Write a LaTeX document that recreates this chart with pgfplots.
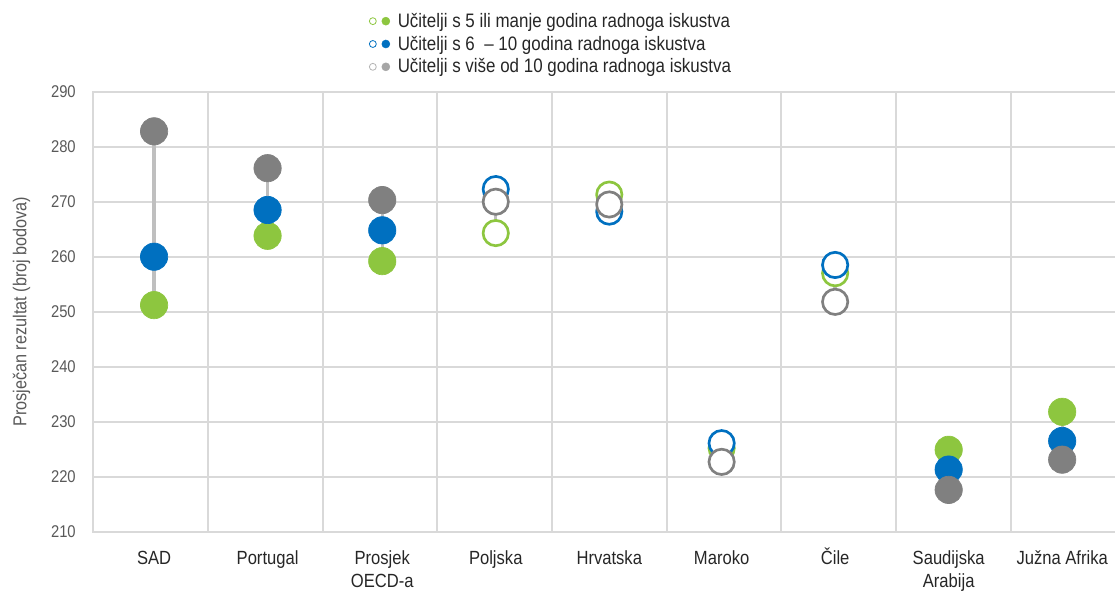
\documentclass[border=0pt]{standalone}
\usepackage{pgfplots}
\pgfplotsset{compat=1.18}
\usepackage{pgfplotstable}
\usepackage{fontspec}
\setmainfont{Liberation Sans}[FakeStretch=0.87]
\definecolor{cgreen}{HTML}{8DC63F}
\definecolor{cblue}{HTML}{0070C0}
\definecolor{cgray}{HTML}{808080}
\definecolor{cline}{HTML}{BFBFBF}
\definecolor{cgrid}{HTML}{D9D9D9}
\definecolor{ctext}{HTML}{595959}
\definecolor{clab}{HTML}{262626}
\newcommand\ph{\vphantom{Č}}
% filled markers (x = category position)
\pgfplotstableread{
x g b y
0.53 251.2 260.0 282.8
1.52 263.8 268.5 276.1
2.52 259.2 264.8 270.3
7.46 224.9 221.3 217.6
8.45 231.8 226.5 223.1
}\filled
% open markers
\pgfplotstableread{
x g b y
3.51 264.3 272.3 270.0
4.50 271.3 268.2 269.5
5.48 225.2 226.1 222.7
6.47 257.0 258.5 251.8
}\openm
% connector lines (min to max per category)
\pgfplotstableread{
x v
0.53 251.2
0.53 282.8
nan nan
1.52 263.8
1.52 276.1
nan nan
2.52 259.2
2.52 270.3
nan nan
3.51 264.3
3.51 272.3
nan nan
4.50 268.2
4.50 271.3
nan nan
5.48 222.7
5.48 226.1
nan nan
6.47 251.8
6.47 258.5
nan nan
7.46 217.6
7.46 224.9
nan nan
8.45 223.1
8.45 231.8
}\conn
\begin{document}
\begin{tikzpicture}
\begin{axis}[
  at={(0,0)}, anchor=south west,
  scale only axis, width=774pt, height=330pt,
  xmin=0, xmax=9, ymin=210, ymax=290,
  ytick={210,220,...,290},
  xtick={0.53,1.52,2.52,3.51,4.50,5.48,6.47,7.46,8.45},
  xticklabels={{\ph SAD\\\mbox{}},{\ph Portugal\\\mbox{}},{\ph Prosjek\\OECD-a},{\ph Poljska\\\mbox{}},{\ph Hrvatska\\\mbox{}},{\ph Maroko\\\mbox{}},{\ph Čile\\\mbox{}},{\ph Saudijska\\Arabija},{\ph Južna Afrika\\\mbox{}}},
  minor xtick={1,2,...,8},
  ymajorgrids, xminorgrids,
  grid style={cgrid, line width=1.5pt},
  minor grid style={cgrid, line width=1.5pt},
  axis line style={cgrid, line width=1.5pt},
  major tick length=0pt, minor tick length=0pt,
  tick style={draw=none},
  yticklabel style={inner sep=0pt, xshift=-13pt, text=ctext, font=\fontsize{12.75}{15}\selectfont},
  xticklabel style={inner sep=0pt, yshift=-11.75pt, align=center, text=clab, font=\fontsize{14.3}{17.25}\selectfont},
  /pgf/number format/assume math mode=true,
  ylabel={Prosječan rezultat (broj bodova)},
  every axis y label/.style={at={(axis description cs:-0.0696,0.5)}, rotate=90, anchor=center, text=ctext, font=\fontsize{14}{16}\selectfont},
  clip=false,
  legend style={draw=none, fill=none, at={(axis description cs:0.263,1.19)}, anchor=north west,
    font=\fontsize{14.6}{17}\selectfont, text=clab, row sep=2pt,
    nodes={inner sep=1.5pt}},
  legend cell align=left,
]
\addlegendimage{legend image code/.code={\draw[cgreen, line width=0.6pt, fill=white] (0pt,0pt) circle (2.6pt); \fill[cgreen] (9.75pt,0pt) circle (3pt); \path (17pt,0pt);}}
\addlegendentry{Učitelji s 5 ili manje godina radnoga iskustva}
\addlegendimage{legend image code/.code={\draw[cblue, line width=0.6pt, fill=white] (0pt,0pt) circle (2.6pt); \fill[cblue] (9.75pt,0pt) circle (3pt); \path (17pt,0pt);}}
\addlegendentry{Učitelji s 6 \ – 10 godina radnoga iskustva}
\addlegendimage{legend image code/.code={\draw[cgray!60, line width=0.6pt, fill=white] (0pt,0pt) circle (2.6pt); \fill[cgray!70] (9.75pt,0pt) circle (3pt); \path (17pt,0pt);}}
\addlegendentry{Učitelji s više od 10 godina radnoga iskustva}

\addplot[cline, line width=2.5pt, no markers, unbounded coords=jump, forget plot] table[x=x, y=v] {\conn};

\addplot[cgreen, only marks, mark=*, mark size=10.25pt, mark options={solid, draw=cgreen, fill=cgreen, line width=0.5pt}, forget plot] table[x=x, y=g] {\filled};
\addplot[cblue, only marks, mark=*, mark size=10.25pt, mark options={solid, draw=cblue, fill=cblue, line width=0.5pt}, forget plot] table[x=x, y=b] {\filled};
\addplot[cgray, only marks, mark=*, mark size=10.25pt, mark options={solid, draw=cgray, fill=cgray, line width=0.5pt}, forget plot] table[x=x, y=y] {\filled};

\addplot[cgreen, only marks, mark=*, mark size=9.5pt, mark options={solid, draw=cgreen, fill=white, line width=2pt}, forget plot] table[x=x, y=g] {\openm};
\addplot[cblue, only marks, mark=*, mark size=9.5pt, mark options={solid, draw=cblue, fill=white, line width=2pt}, forget plot] table[x=x, y=b] {\openm};
\addplot[cgray, only marks, mark=*, mark size=9.5pt, mark options={solid, draw=cgray, fill=white, line width=2pt}, forget plot] table[x=x, y=y] {\openm};
\end{axis}
\pgfresetboundingbox
\useasboundingbox (-69.98pt,-44.5pt) rectangle (766.3pt,398.8pt);
\end{tikzpicture}
\end{document}
